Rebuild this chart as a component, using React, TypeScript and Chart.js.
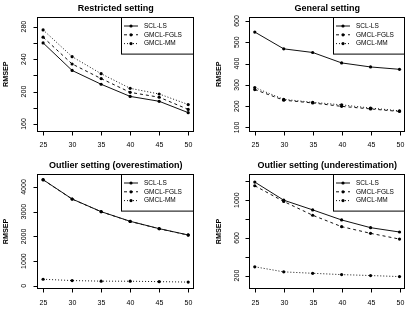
import React, { useEffect, useRef } from "react";
import { Chart, registerables } from "chart.js";

Chart.register(...registerables);

// ---- data ----
const sampleSizes = [25, 30, 35, 40, 45, 50];
const xTickValues = [25, 30, 35, 40, 45, 50];
const seriesNames = ["SCL-LS", "GMCL-FGLS", "GMCL-MM"];
const yAxisTitle = "RMSEP";

const restrictedSCL = [260, 226, 209, 194, 188, 174];
const restrictedFGLS = [267, 234, 216, 199, 193, 178];
const restrictedMM = [276, 243, 222, 204, 197, 184];
const restrictedYTicks = [160, 180, 200, 220, 240, 260, 280];
const restrictedYLabels = [160, 200, 240, 280];

const generalSCL = [548, 469, 452, 403, 384, 373];
const generalFGLS = [278, 228, 215, 199, 187, 175];
const generalMM = [287, 232, 218, 206, 191, 178];
const generalYTicks = [100, 200, 300, 400, 500, 600];
const generalYLabels = [100, 200, 300, 400, 500, 600];

const overSCL = [4296, 3515, 3002, 2612, 2314, 2058];
const overFGLS = [4290, 3510, 2998, 2607, 2309, 2053];
const overMM = [265, 212, 188, 185, 168, 150];
const overYTicks = [0, 1000, 2000, 3000, 4000];
const overYLabels = [0, 1000, 2000, 3000, 4000];

const underSCL = [1192, 1000, 897, 790, 708, 662];
const underFGLS = [1153, 986, 840, 719, 648, 587];
const underMM = [293, 239, 224, 210, 200, 189];
const underYTicks = [200, 400, 600, 800, 1000, 1200];
const underYLabels = [200, 600, 1000];

const panelTitles = [
  "Restricted setting",
  "General setting",
  "Outlier setting (overestimation)",
  "Outlier setting (underestimation)",
];

// ---- layout / style (not data) ----
const FONT = '"Liberation Sans", Arial, Helvetica, sans-serif';
const dashes = [[], [3, 3], [1, 2]];

type PanelDef = {
  series: number[][];
  yTicks: number[];
  yLabels: number[];
  yMin: number;
  yMax: number;
  title: string;
  left: number;
  top: number;
  pad: { left: number; right: number; top: number; bottom: number };
  tickLabelOff: number;
  axisTitleOff: number;
};

const W = 204;
const H = 158;

const panels: PanelDef[] = [
  {
    series: [restrictedSCL, restrictedFGLS, restrictedMM],
    yTicks: restrictedYTicks,
    yLabels: restrictedYLabels,
    yMin: 150.5,
    yMax: 292.3,
    title: panelTitles[0],
    left: 0,
    top: 0,
    pad: { left: 37.3, right: W - 194, top: 16.7, bottom: H - 131.7 },
    tickLabelOff: 13,
    axisTitleOff: 31,
  },
  {
    series: [generalSCL, generalFGLS, generalMM],
    yTicks: generalYTicks,
    yLabels: generalYLabels,
    yMin: 80,
    yMax: 620,
    title: panelTitles[1],
    left: 203,
    top: 0,
    pad: { left: 46, right: W - 202.3, top: 16.7, bottom: H - 131.7 },
    tickLabelOff: 11.7,
    axisTitleOff: 29.7,
  },
  {
    series: [overSCL, overFGLS, overMM],
    yTicks: overYTicks,
    yLabels: overYLabels,
    yMin: -142,
    yMax: 4539,
    title: panelTitles[2],
    left: 0,
    top: 158,
    pad: { left: 37.3, right: W - 194, top: 15.7, bottom: H - 131.3 },
    tickLabelOff: 13,
    axisTitleOff: 31,
  },
  {
    series: [underSCL, underFGLS, underMM],
    yTicks: underYTicks,
    yLabels: underYLabels,
    yMin: 54,
    yMax: 1281,
    title: panelTitles[3],
    left: 203,
    top: 158,
    pad: { left: 46, right: W - 202.3, top: 15.7, bottom: H - 131.3 },
    tickLabelOff: 11.7,
    axisTitleOff: 29.7,
  },
];

function makeDecor(def: PanelDef) {
  return {
    id: "rDecor",
    afterDraw(chart: any) {
      const ctx = chart.ctx as CanvasRenderingContext2D;
      const a = chart.chartArea;
      const xs = chart.scales.x;
      const ys = chart.scales.y;
      ctx.save();
      ctx.strokeStyle = "#000";
      ctx.fillStyle = "#000";
      ctx.lineWidth = 1;
      ctx.setLineDash([]);
      // box
      const L = Math.round(a.left) + 0.5;
      const R = Math.round(a.right) - 0.5;
      const T = Math.round(a.top) + 0.5;
      const B = Math.round(a.bottom) - 0.5;
      ctx.strokeRect(L, T, R - L, B - T);
      // x ticks
      ctx.font = `7px ${FONT}`;
      ctx.textAlign = "center";
      ctx.textBaseline = "middle";
      xTickValues.forEach((v) => {
        const px = Math.round(xs.getPixelForValue(v)) + 0.5;
        ctx.beginPath();
        ctx.moveTo(px, B);
        ctx.lineTo(px, B + 4);
        ctx.stroke();
        ctx.fillText(String(v), px, a.bottom + 13.8);
      });
      // y ticks
      def.yTicks.forEach((v) => {
        const py = Math.round(ys.getPixelForValue(v)) + 0.5;
        ctx.beginPath();
        ctx.moveTo(L, py);
        ctx.lineTo(L - 4, py);
        ctx.stroke();
      });
      def.yLabels.forEach((v) => {
        const py = ys.getPixelForValue(v);
        ctx.save();
        ctx.translate(a.left - def.tickLabelOff, py);
        ctx.rotate(-Math.PI / 2);
        ctx.fillText(String(v), 0, 0);
        ctx.restore();
      });
      // y axis title
      ctx.font = `bold 7.2px ${FONT}`;
      ctx.save();
      ctx.translate(a.left - def.axisTitleOff, (a.top + a.bottom) / 2);
      ctx.rotate(-Math.PI / 2);
      ctx.fillText(yAxisTitle, 0, 0);
      ctx.restore();
      // main title
      ctx.font = `bold 9px ${FONT}`;
      ctx.fillText(def.title, (a.left + a.right) / 2, a.top - 8.5);
      // legend
      const lw = 72.8;
      const lh = 36.6;
      const lx = Math.round(a.right - lw) + 0.5;
      ctx.fillStyle = "#fff";
      ctx.fillRect(lx, T, R - lx, lh);
      ctx.strokeRect(lx, T, R - lx, lh);
      ctx.font = `6.5px ${FONT}`;
      ctx.textAlign = "left";
      seriesNames.forEach((name, i) => {
        const ry = a.top + 9.3 + i * 8.8;
        ctx.strokeStyle = "#111";
        ctx.setLineDash(dashes[i]);
        ctx.beginPath();
        ctx.moveTo(lx + 2.5, ry);
        ctx.lineTo(lx + 16.5, ry);
        ctx.stroke();
        ctx.setLineDash([]);
        ctx.fillStyle = "#000";
        ctx.beginPath();
        ctx.arc(lx + 9.5, ry, 1.6, 0, Math.PI * 2);
        ctx.fill();
        ctx.fillText(name, lx + 22.5, ry);
      });
      ctx.restore();
    },
  };
}

function Panel({ def }: { def: PanelDef }) {
  const ref = useRef<HTMLCanvasElement | null>(null);
  useEffect(() => {
    if (!ref.current) return;
    const chart = new Chart(ref.current, {
      type: "line",
      data: {
        datasets: def.series.map((vals, i) => ({
          label: seriesNames[i],
          data: sampleSizes.map((x, j) => ({ x, y: vals[j] })),
          borderColor: "#111",
          borderWidth: 1,
          borderDash: dashes[i],
          pointRadius: 1.6,
          pointBackgroundColor: "#000",
          pointBorderWidth: 0,
          pointHoverRadius: 1.6,
          fill: false,
          tension: 0,
        })),
      },
      options: {
        responsive: false,
        animation: false,
        devicePixelRatio: 1,
        layout: { padding: def.pad },
        plugins: {
          legend: { display: false },
          title: { display: false },
          tooltip: { enabled: false },
        },
        scales: {
          x: { type: "linear", min: 24, max: 51, display: false },
          y: { type: "linear", min: def.yMin, max: def.yMax, display: false },
        },
      },
      plugins: [makeDecor(def)],
    } as any);
    return () => chart.destroy();
  }, [def]);
  return (
    <canvas
      ref={ref}
      width={W}
      height={H}
      style={{ position: "absolute", left: def.left, top: def.top, width: W, height: H }}
    />
  );
}

export default function App() {
  return (
    <div
      style={{
        position: "fixed",
        left: 0,
        top: 0,
        width: 407,
        height: 316,
        background: "#fff",
        overflow: "hidden",
      }}
    >
      {panels.map((p, i) => (
        <Panel key={i} def={p} />
      ))}
    </div>
  );
}
